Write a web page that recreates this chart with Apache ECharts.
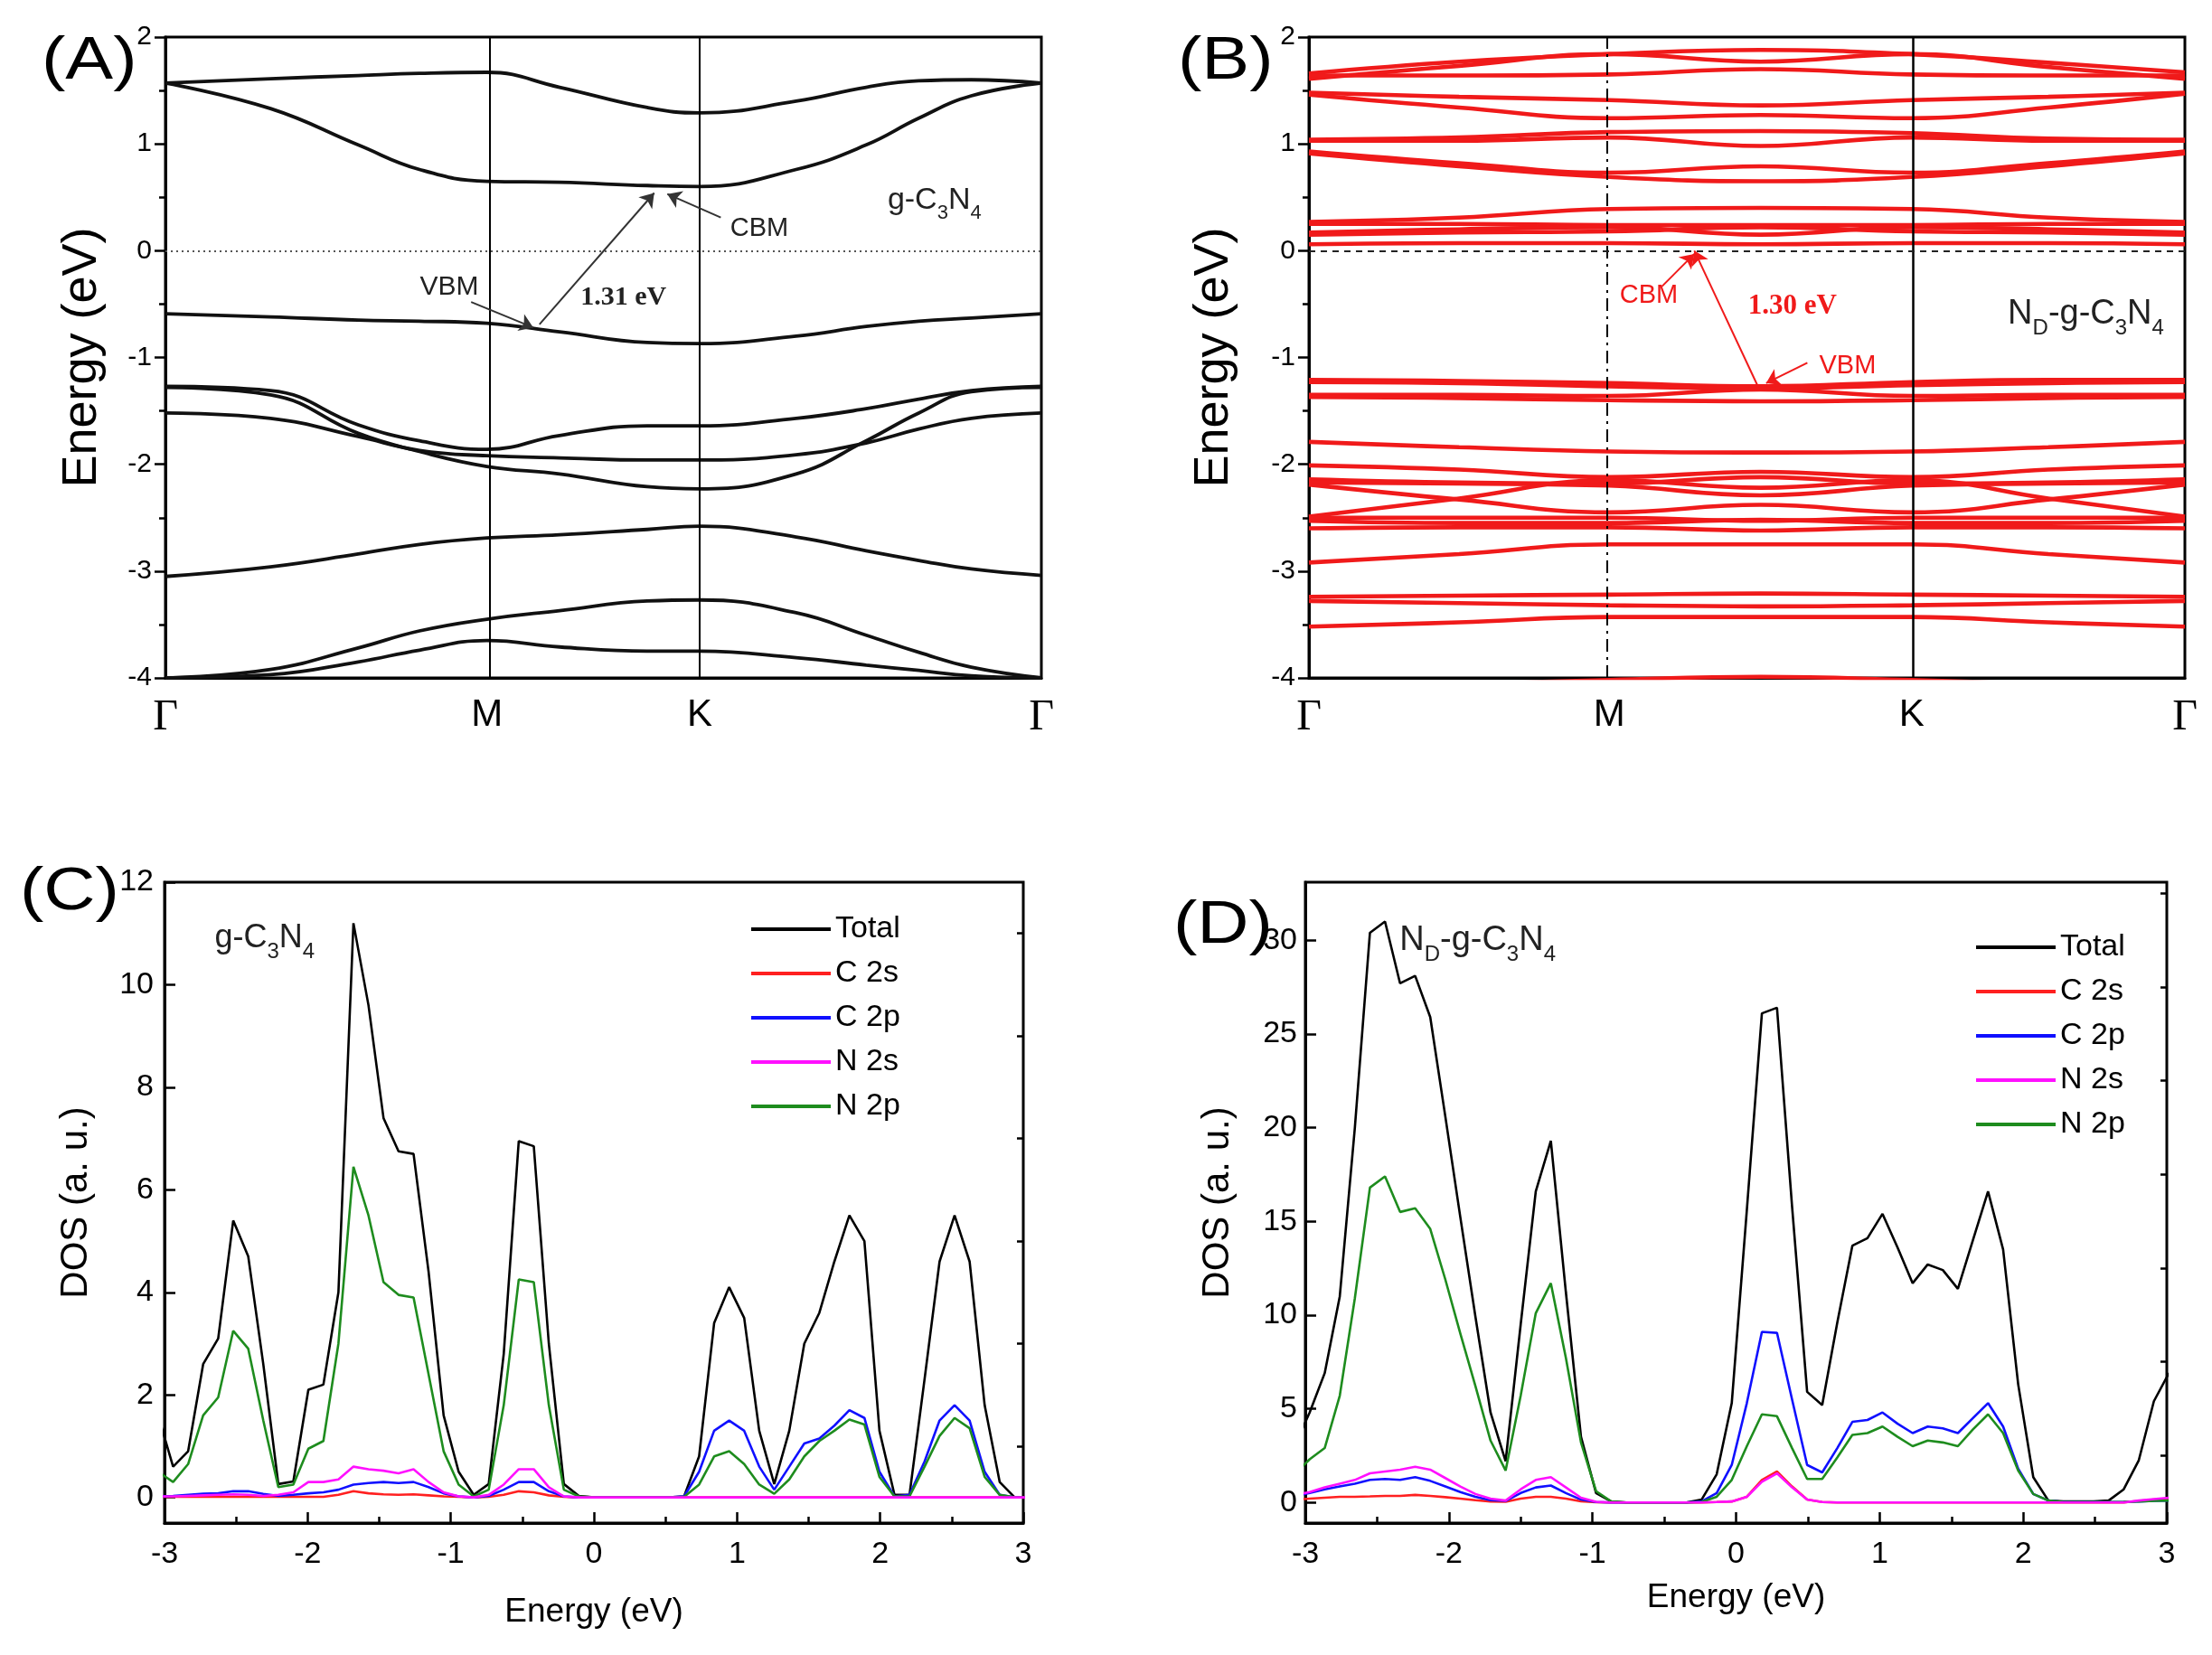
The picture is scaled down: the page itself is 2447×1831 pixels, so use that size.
<!DOCTYPE html>
<html><head><meta charset="utf-8">
<script src="https://cdn.jsdelivr.net/npm/echarts@6/dist/echarts.min.js"></script>
<style>html,body{margin:0;padding:0;background:#fff}#c{width:2447px;height:1831px}</style>
</head><body><div id="c"></div>
<script>
const SANS = '"Liberation Sans", Arial, sans-serif';
const SERIF = '"Liberation Serif", "Times New Roman", serif';

// ---------- Panel A : g-C3N4 band structure ----------
const kPathA = [0, 0.12, 0.22, 0.29, 0.367, 0.45, 0.55, 0.61, 0.72, 0.80, 0.86, 0.92, 1.0];
const symPosA = [0, 0.367, 0.61, 1];
const bandA_c2 = [1.57, 1.61, 1.64, 1.66, 1.67, 1.53, 1.34, 1.29, 1.40, 1.53, 1.59, 1.60, 1.57];
const bandA_c1 = [1.57, 1.33, 0.99, 0.76, 0.65, 0.64, 0.61, 0.60, 0.76, 0.99, 1.24, 1.45, 1.57];
const bandA_v1 = [-0.59, -0.62, -0.65, -0.66, -0.68, -0.76, -0.86, -0.87, -0.80, -0.71, -0.66, -0.63, -0.59];
const bandA_v2 = [-1.27, -1.31, -1.63, -1.78, -1.86, -1.73, -1.64, -1.64, -1.57, -1.48, -1.39, -1.31, -1.27];
const bandA_v3 = [-1.28, -1.35, -1.71, -1.88, -2.02, -2.09, -2.21, -2.23, -2.09, -1.78, -1.52, -1.32, -1.28];
const bandA_v4 = [-1.52, -1.57, -1.74, -1.87, -1.92, -1.94, -1.96, -1.96, -1.91, -1.80, -1.67, -1.57, -1.52];
const bandA_v5 = [-3.05, -2.96, -2.84, -2.75, -2.69, -2.66, -2.61, -2.58, -2.68, -2.81, -2.90, -2.98, -3.04];
const bandA_v6 = [-4.0, -3.92, -3.72, -3.56, -3.45, -3.37, -3.28, -3.27, -3.39, -3.60, -3.76, -3.90, -4.0];
const bandA_v7 = [-4.0, -3.97, -3.85, -3.74, -3.65, -3.71, -3.75, -3.75, -3.81, -3.88, -3.93, -3.98, -4.0];

// ---------- Panel B : ND-g-C3N4 band structure ----------
const kPathB = [0, 0.1715, 0.343, 0.5155, 0.688, 0.844, 1.0];
const symPosB = [0, 0.343, 0.688, 1];
const bandsB_cond = [
  [1.66, 1.77, 1.84, 1.88, 1.84, 1.76, 1.67],
  [1.61, 1.73, 1.84, 1.77, 1.84, 1.72, 1.61],
  [1.64, 1.64, 1.65, 1.70, 1.65, 1.64, 1.64],
  [1.48, 1.44, 1.41, 1.36, 1.41, 1.44, 1.48],
  [1.46, 1.34, 1.24, 1.27, 1.24, 1.34, 1.47],
  [1.04, 1.06, 1.11, 1.12, 1.10, 1.05, 1.04],
  [1.03, 1.03, 1.06, 0.98, 1.06, 1.03, 1.03],
  [0.93, 0.82, 0.73, 0.79, 0.73, 0.82, 0.93],
  [0.91, 0.79, 0.69, 0.65, 0.69, 0.79, 0.91],
  [0.27, 0.31, 0.39, 0.40, 0.39, 0.31, 0.27],
  [0.25, 0.25, 0.24, 0.24, 0.24, 0.25, 0.25],
  [0.17, 0.20, 0.22, 0.15, 0.22, 0.20, 0.17],
  [0.15, 0.17, 0.18, 0.22, 0.18, 0.17, 0.15],
  [0.06, 0.07, 0.07, 0.06, 0.07, 0.07, 0.06]
];
const bandsB_val = [
  [-1.21, -1.22, -1.24, -1.27, -1.23, -1.21, -1.21],
  [-1.23, -1.24, -1.27, -1.29, -1.26, -1.24, -1.23],
  [-1.35, -1.35, -1.36, -1.30, -1.36, -1.35, -1.35],
  [-1.37, -1.38, -1.40, -1.41, -1.40, -1.38, -1.37],
  [-1.79, -1.84, -1.88, -1.89, -1.88, -1.84, -1.79],
  [-2.01, -2.05, -2.12, -2.07, -2.12, -2.05, -2.01],
  [-2.14, -2.17, -2.18, -2.12, -2.18, -2.17, -2.14],
  [-2.17, -2.18, -2.20, -2.29, -2.20, -2.18, -2.17],
  [-2.19, -2.33, -2.45, -2.38, -2.45, -2.33, -2.19],
  [-2.49, -2.32, -2.15, -2.22, -2.15, -2.32, -2.49],
  [-2.50, -2.50, -2.50, -2.53, -2.50, -2.50, -2.50],
  [-2.53, -2.55, -2.55, -2.52, -2.55, -2.55, -2.53],
  [-2.60, -2.59, -2.59, -2.62, -2.59, -2.59, -2.60],
  [-2.92, -2.84, -2.75, -2.75, -2.75, -2.84, -2.92],
  [-3.24, -3.23, -3.22, -3.21, -3.22, -3.23, -3.24],
  [-3.28, -3.30, -3.32, -3.33, -3.32, -3.30, -3.28],
  [-3.52, -3.48, -3.43, -3.43, -3.43, -3.48, -3.52],
  [-4.10, -4.06, -4.02, -3.99, -4.02, -4.06, -4.10]
];

// ---------- Panel C : g-C3N4 DOS ----------
const eC = [-3.045,-2.94,-2.835,-2.73,-2.625,-2.52,-2.415,-2.31,-2.205,-2.1,-1.995,-1.89,-1.785,-1.68,-1.575,-1.47,-1.365,-1.26,-1.155,-1.05,-0.945,-0.84,-0.735,-0.63,-0.525,-0.42,-0.315,-0.21,-0.105,0,0.105,0.21,0.315,0.42,0.525,0.63,0.735,0.84,0.945,1.05,1.155,1.26,1.365,1.47,1.575,1.68,1.785,1.89,1.995,2.1,2.205,2.31,2.415,2.52,2.625,2.73,2.835,2.94,3.045];
const totalC = [1.6,0.6,0.9,2.6,3.1,5.4,4.7,2.6,0.26,0.31,2.1,2.2,4.0,11.2,9.6,7.4,6.75,6.7,4.4,1.6,0.5,0.05,0.26,2.8,6.95,6.85,3.0,0.26,0.03,0,0,0,0,0,0,0.02,0.8,3.4,4.1,3.5,1.3,0.26,1.3,3.0,3.6,4.6,5.5,5.0,1.3,0.05,0.05,2.3,4.6,5.5,4.6,1.8,0.3,0,0];
const c2sC = [0.01,0.01,0.01,0.01,0.01,0.01,0.01,0.01,0.01,0.01,0.01,0.01,0.05,0.12,0.08,0.06,0.05,0.06,0.04,0.02,0.01,0,0.01,0.05,0.12,0.1,0.04,0.01,0,0,0,0,0,0,0,0,0,0,0,0,0,0,0,0,0,0,0,0,0,0,0,0,0,0,0,0,0,0,0];
const c2pC = [0.02,0.03,0.05,0.07,0.08,0.12,0.12,0.07,0.03,0.05,0.08,0.1,0.15,0.25,0.28,0.3,0.28,0.3,0.2,0.08,0.02,0,0.03,0.15,0.3,0.3,0.12,0.02,0,0,0,0,0,0,0,0.02,0.5,1.3,1.5,1.3,0.6,0.15,0.6,1.05,1.15,1.4,1.7,1.55,0.5,0.02,0.05,0.7,1.5,1.8,1.5,0.5,0.05,0,0];
const n2sC = [0.02,0.02,0.03,0.04,0.05,0.06,0.05,0.03,0.05,0.1,0.3,0.3,0.35,0.6,0.55,0.52,0.47,0.55,0.3,0.1,0.02,0,0.05,0.25,0.55,0.55,0.2,0.02,0,0,0,0,0,0,0,0,0,0,0,0,0,0,0,0,0,0,0,0,0,0,0,0,0,0,0,0,0,0,0];
const n2pC = [0.5,0.3,0.65,1.6,1.95,3.25,2.9,1.5,0.2,0.25,0.95,1.1,3.0,6.45,5.5,4.2,3.95,3.9,2.4,0.9,0.25,0.02,0.15,1.8,4.25,4.2,1.8,0.15,0.02,0,0,0,0,0,0,0.01,0.25,0.8,0.9,0.65,0.25,0.07,0.35,0.8,1.1,1.3,1.52,1.42,0.4,0.02,0.02,0.6,1.2,1.55,1.35,0.4,0.05,0,0];

// ---------- Panel D : ND-g-C3N4 DOS ----------
const eD = [-3.075,-2.97,-2.865,-2.76,-2.655,-2.55,-2.445,-2.34,-2.235,-2.13,-2.025,-1.92,-1.815,-1.71,-1.605,-1.5,-1.395,-1.29,-1.185,-1.08,-0.975,-0.87,-0.765,-0.66,-0.555,-0.45,-0.345,-0.24,-0.135,-0.03,0.075,0.18,0.285,0.39,0.495,0.6,0.705,0.81,0.915,1.02,1.125,1.23,1.335,1.44,1.545,1.65,1.755,1.86,1.965,2.07,2.175,2.28,2.385,2.49,2.595,2.7,2.805,2.91,3.015];
const totalD = [3.0,4.8,6.9,11.0,20.0,30.4,31.0,27.7,28.1,25.9,20.6,15.2,9.9,4.8,2.2,9.5,16.6,19.3,11.2,3.5,0.5,0.05,0,0,0,0,0,0.15,1.5,5.3,15.6,26.1,26.4,15.8,5.9,5.2,9.6,13.7,14.1,15.4,13.6,11.7,12.7,12.4,11.4,14.0,16.6,13.5,6.3,1.35,0.1,0.05,0.05,0.05,0.1,0.7,2.25,5.4,6.9];
const c2sD = [0.15,0.2,0.25,0.3,0.3,0.32,0.35,0.35,0.4,0.35,0.28,0.2,0.12,0.05,0.03,0.2,0.3,0.3,0.2,0.06,0.01,0,0,0,0,0,0,0,0.02,0.05,0.3,1.2,1.65,0.85,0.15,0.02,0,0,0,0,0,0,0,0,0,0,0,0,0,0,0,0,0,0,0,0,0.08,0.15,0.2];
const c2pD = [0.35,0.5,0.7,0.85,1.0,1.2,1.25,1.2,1.35,1.15,0.85,0.55,0.3,0.12,0.08,0.5,0.8,0.9,0.5,0.15,0.02,0,0,0,0,0,0,0.05,0.5,2.0,5.3,9.1,9.05,5.5,2.0,1.6,2.9,4.3,4.4,4.8,4.2,3.7,4.05,3.95,3.7,4.5,5.3,4.05,1.8,0.45,0.1,0.02,0.02,0.02,0.02,0.03,0.05,0.08,0.1];
const n2sD = [0.4,0.55,0.8,1.0,1.2,1.55,1.65,1.75,1.9,1.75,1.3,0.85,0.45,0.2,0.1,0.7,1.2,1.35,0.8,0.25,0.03,0,0,0,0,0,0,0,0.02,0.05,0.3,1.1,1.55,0.8,0.15,0.02,0,0,0,0,0,0,0,0,0,0,0,0,0,0,0,0,0,0,0,0,0.1,0.18,0.25];
const n2pD = [1.5,2.3,2.9,5.7,10.9,16.8,17.4,15.5,15.7,14.6,11.9,9.0,6.2,3.3,1.7,5.7,10.1,11.7,7.7,3.2,0.6,0.05,0,0,0,0,0,0.02,0.3,1.2,3.0,4.7,4.6,2.9,1.25,1.25,2.4,3.6,3.7,4.05,3.5,3.0,3.3,3.2,3.0,3.9,4.7,3.7,1.7,0.45,0.1,0.02,0.02,0.02,0.02,0.03,0.05,0.08,0.1];

const yTicksC = [0, 2, 4, 6, 8, 10, 12];
const yMinorC = [1, 3, 5, 7, 9, 11];
const yTicksD = [0, 5, 10, 15, 20, 25, 30];
const yMinorD = [2.5, 7.5, 12.5, 17.5, 22.5, 27.5, 32.5];
const legendNames = ['Total', 'C 2s', 'C 2p', 'N 2s', 'N 2p'];

// ---------- builders ----------
const RED = '#f01a1a';
const COL = {'Total':'#000000','C 2s':'#ff2020','C 2p':'#1010ff','N 2s':'#ff10ff','N 2p':'#1e8c1e'};

function bandLine(kp, vals, xi, color, width) {
  return {type:'line', xAxisIndex:xi, yAxisIndex:xi, data:kp.map((k,i)=>[k, vals[i]]),
    smooth:0.45, symbol:'none', silent:true, z:3,
    lineStyle:{color:color, width:width}, itemStyle:{color:color}};
}
function dosLine(name, e, v, xi, yi) {
  return {type:'line', name:name, xAxisIndex:xi, yAxisIndex:yi, data:e.map((x,i)=>[x, v[i]]),
    symbol:'none', silent:true, z:3,
    lineStyle:{color:COL[name], width:2.6}, itemStyle:{color:COL[name]}};
}
function symFormatter(pos) {
  return function (v) {
    if (Math.abs(v - pos[1]) < 1e-6) return '{m|M}';
    if (Math.abs(v - pos[2]) < 1e-6) return '{m|K}';
    return '{g|Γ}';
  };
}
function bandXAxis(gi, pos) {
  return {type:'value', gridIndex:gi, min:0, max:1,
    axisLine:{show:true, onZero:false, lineStyle:{color:'#000', width:3}},
    axisTick:{show:false}, splitLine:{show:false},
    axisLabel:{customValues:pos, formatter:symFormatter(pos), margin:20,
      rich:{g:{fontFamily:SERIF, fontSize:48, color:'#000'}, m:{fontFamily:SANS, fontSize:42, color:'#000'}}}};
}
function bandYAxis(gi, gap) {
  return {type:'value', gridIndex:gi, min:-4, max:2, interval:1,
    name:'Energy (eV)', nameLocation:'middle', nameGap:gap,
    nameTextStyle:{fontSize:54, fontFamily:SANS, color:'#000'},
    axisLine:{show:true, onZero:false, lineStyle:{color:'#000', width:3}},
    axisTick:{show:true, length:12, lineStyle:{color:'#000', width:2.5}},
    minorTick:{show:true, splitNumber:2, length:7, lineStyle:{color:'#000', width:2.5}},
    axisLabel:{fontSize:30, fontFamily:SANS, color:'#000', margin:15},
    splitLine:{show:false}, minorSplitLine:{show:false}};
}
function dosXAxis(gi, gap) {
  return {type:'value', gridIndex:gi, min:-3, max:3, interval:1,
    name:'Energy (eV)', nameLocation:'middle', nameGap:gap,
    nameTextStyle:{fontSize:37, fontFamily:SANS, color:'#000'},
    axisLine:{onZero:false, lineStyle:{color:'#000', width:3}},
    axisTick:{inside:true, length:12, lineStyle:{color:'#000', width:2.5}},
    minorTick:{show:true, splitNumber:2, length:7, lineStyle:{color:'#000', width:2.5}},
    axisLabel:{fontSize:34, fontFamily:SANS, color:'#000', margin:18},
    splitLine:{show:false}};
}
function dosYAxis(gi, min, max, ticks, gap, margin) {
  return {type:'value', gridIndex:gi, min:min, max:max,
    name:'DOS (a. u.)', nameLocation:'middle', nameGap:gap,
    nameTextStyle:{fontSize:42, fontFamily:SANS, color:'#000'},
    axisLine:{onZero:false, lineStyle:{color:'#000', width:3}},
    axisTick:{inside:true, length:12, customValues:ticks, lineStyle:{color:'#000', width:2.5}},
    axisLabel:{customValues:ticks, fontSize:34, fontFamily:SANS, color:'#000', margin:margin},
    splitLine:{show:false}};
}
function dosYMinor(gi, min, max, ticks) {
  return {type:'value', gridIndex:gi, min:min, max:max,
    axisLine:{show:false, onZero:false},
    axisTick:{inside:true, length:7, customValues:ticks, lineStyle:{color:'#000', width:2.5}},
    axisLabel:{show:false}, splitLine:{show:false}};
}
function subRich(base, sub, color) {
  const lh = Math.round(base * 1.5);
  return {n:{fontSize:base, fontFamily:SANS, color:color, lineHeight:lh, verticalAlign:'middle'},
          s:{fontSize:sub, fontFamily:SANS, color:color, lineHeight:sub, verticalAlign:'bottom'}};
}
function textMarks(xi, items) {
  return {type:'line', xAxisIndex:xi, yAxisIndex:xi, data:[], silent:true,
    markPoint:{silent:true, symbol:'circle', symbolSize:0, itemStyle:{color:'transparent'},
      label:{show:true, position:'inside'}, data:items}};
}
function arrowMarks(xi, color, width, size, pairs) {
  return {type:'line', xAxisIndex:xi, yAxisIndex:xi, data:[], silent:true,
    markLine:{silent:true, symbol:['none','arrow'], symbolSize:size, label:{show:false},
      lineStyle:{color:color, width:width, type:'solid'}, data:pairs}};
}
function guideMarks(xi, items) {
  return {type:'line', xAxisIndex:xi, yAxisIndex:xi, data:[], silent:true, z:2,
    markLine:{silent:true, symbol:['none','none'], label:{show:false}, data:items}};
}

const series = [];
[bandA_c2, bandA_c1, bandA_v1, bandA_v2, bandA_v3, bandA_v4, bandA_v5, bandA_v6, bandA_v7]
  .forEach(b => series.push(bandLine(kPathA, b, 0, '#111', 3.8)));
bandsB_cond.forEach(b => series.push(bandLine(kPathB, b, 1, RED, 4.6)));
bandsB_val.forEach(b => series.push(bandLine(kPathB, b, 1, RED, 4.6)));

series.push(guideMarks(0, [
  {xAxis:symPosA[1], lineStyle:{color:'#000', width:2, type:'solid'}},
  {xAxis:symPosA[2], lineStyle:{color:'#000', width:2, type:'solid'}},
  {yAxis:0, lineStyle:{color:'#555', width:1.8, type:[2,4]}}
]));
series.push(guideMarks(1, [
  {xAxis:symPosB[1], lineStyle:{color:'#000', width:2, type:[14,6,3,6]}},
  {xAxis:symPosB[2], lineStyle:{color:'#000', width:2.5, type:'solid'}},
  {yAxis:0, lineStyle:{color:'#222', width:2, type:[7,6]}}
]));

series.push(arrowMarks(0, '#333', 2, 15, [
  [{coord:[0.427,-0.69]}, {coord:[0.558,0.54]}],
  [{coord:[0.349,-0.48]}, {coord:[0.42,-0.72]}],
  [{coord:[0.634,0.31]}, {coord:[0.573,0.53]}]
]));
series.push(arrowMarks(1, RED, 2, 15, [
  [{coord:[0.512,-1.26]}, {coord:[0.44,0.0]}],
  [{coord:[0.403,-0.335]}, {coord:[0.44,-0.03]}],
  [{coord:[0.569,-1.05]}, {coord:[0.522,-1.24]}]
]));

series.push(textMarks(0, [
  {coord:[0.523,-0.44], label:{formatter:'1.31 eV', fontFamily:SERIF, fontWeight:'bold', fontSize:30, color:'#222'}},
  {coord:[0.324,-0.34], label:{formatter:'VBM', fontFamily:SANS, fontSize:30, color:'#222'}},
  {coord:[0.678,0.21], label:{formatter:'CBM', fontFamily:SANS, fontSize:29, color:'#222'}},
  {coord:[0.878,0.47], label:{formatter:'{n|g-C}{s|3}{n|N}{s|4}', rich:subRich(34, 22, '#222')}}
]));
series.push(textMarks(1, [
  {coord:[0.552,-0.52], label:{formatter:'1.30 eV', fontFamily:SERIF, fontWeight:'bold', fontSize:31, color:RED}},
  {coord:[0.388,-0.42], label:{formatter:'CBM', fontFamily:SANS, fontSize:29, color:RED}},
  {coord:[0.615,-1.08], label:{formatter:'VBM', fontFamily:SANS, fontSize:29, color:RED}},
  {coord:[0.887,-0.59], label:{formatter:'{n|N}{s|D}{n|-g-C}{s|3}{n|N}{s|4}', rich:subRich(38, 24, '#222')}}
]));

// DOS series (N 2s drawn last so it sits on top along the baseline)
series.push(dosLine('Total', eC, totalC, 2, 2));
series.push(dosLine('C 2s', eC, c2sC, 2, 2));
series.push(dosLine('C 2p', eC, c2pC, 2, 2));
series.push(dosLine('N 2p', eC, n2pC, 2, 2));
series.push(dosLine('N 2s', eC, n2sC, 2, 2));
series.push(dosLine('Total', eD, totalD, 3, 3));
series.push(dosLine('C 2s', eD, c2sD, 3, 3));
series.push(dosLine('C 2p', eD, c2pD, 3, 3));
series.push(dosLine('N 2p', eD, n2pD, 3, 3));
series.push(dosLine('N 2s', eD, n2sD, 3, 3));

series.push(textMarks(2, [
  {coord:[-2.3, 10.9], label:{formatter:'{n|g-C}{s|3}{n|N}{s|4}', rich:subRich(36, 24, '#222')}}
]));
series.push(textMarks(3, [
  {coord:[-1.8, 30.0], label:{formatter:'{n|N}{s|D}{n|-g-C}{s|3}{n|N}{s|4}', rich:subRich(38, 24, '#222')}}
]));

const gridBase = {show:true, borderColor:'#000', borderWidth:3, backgroundColor:'transparent'};
const legendBase = {data:legendNames, orient:'vertical', icon:'rect', itemWidth:88, itemHeight:4,
  itemGap:13, selectedMode:false, textStyle:{fontSize:34, fontFamily:SANS, color:'#000', lineHeight:36}};

const option = {
  animation:false,
  backgroundColor:'#ffffff',
  grid:[
    Object.assign({left:183, top:41, width:969, height:709}, gridBase),
    Object.assign({left:1448, top:41, width:969, height:709}, gridBase),
    Object.assign({left:182, top:976, width:950, height:709}, gridBase),
    Object.assign({left:1444, top:976, width:953, height:709}, gridBase)
  ],
  xAxis:[bandXAxis(0, symPosA), bandXAxis(1, symPosB), dosXAxis(2, 80), dosXAxis(3, 64)],
  yAxis:[bandYAxis(0, 65), bandYAxis(1, 78),
    dosYAxis(2, -0.5, 12, yTicksC, 77, 12), dosYAxis(3, -1.1, 33.1, yTicksD, 76, 9),
    dosYMinor(2, -0.5, 12, yMinorC), dosYMinor(3, -1.1, 33.1, yMinorD)],
  legend:[
    Object.assign({left:826, top:1005}, legendBase),
    Object.assign({left:2181, top:1025}, legendBase)
  ],
  graphic:[
    {type:'text', x:46, y:36, scaleX:1.2, style:{text:'(A)', fontSize:66, fontFamily:SANS, fill:'#000', verticalAlign:'top'}},
    {type:'text', x:1303, y:36, scaleX:1.2, style:{text:'(B)', fontSize:66, fontFamily:SANS, fill:'#000', verticalAlign:'top'}},
    {type:'text', x:22, y:955, scaleX:1.2, style:{text:'(C)', fontSize:66, fontFamily:SANS, fill:'#000', verticalAlign:'top'}},
    {type:'text', x:1298, y:992, scaleX:1.2, style:{text:'(D)', fontSize:66, fontFamily:SANS, fill:'#000', verticalAlign:'top'}}
  ],
  series:series
};

const chart = echarts.init(document.getElementById('c'), null, {renderer:'canvas'});
chart.setOption(option);
</script></body></html>
